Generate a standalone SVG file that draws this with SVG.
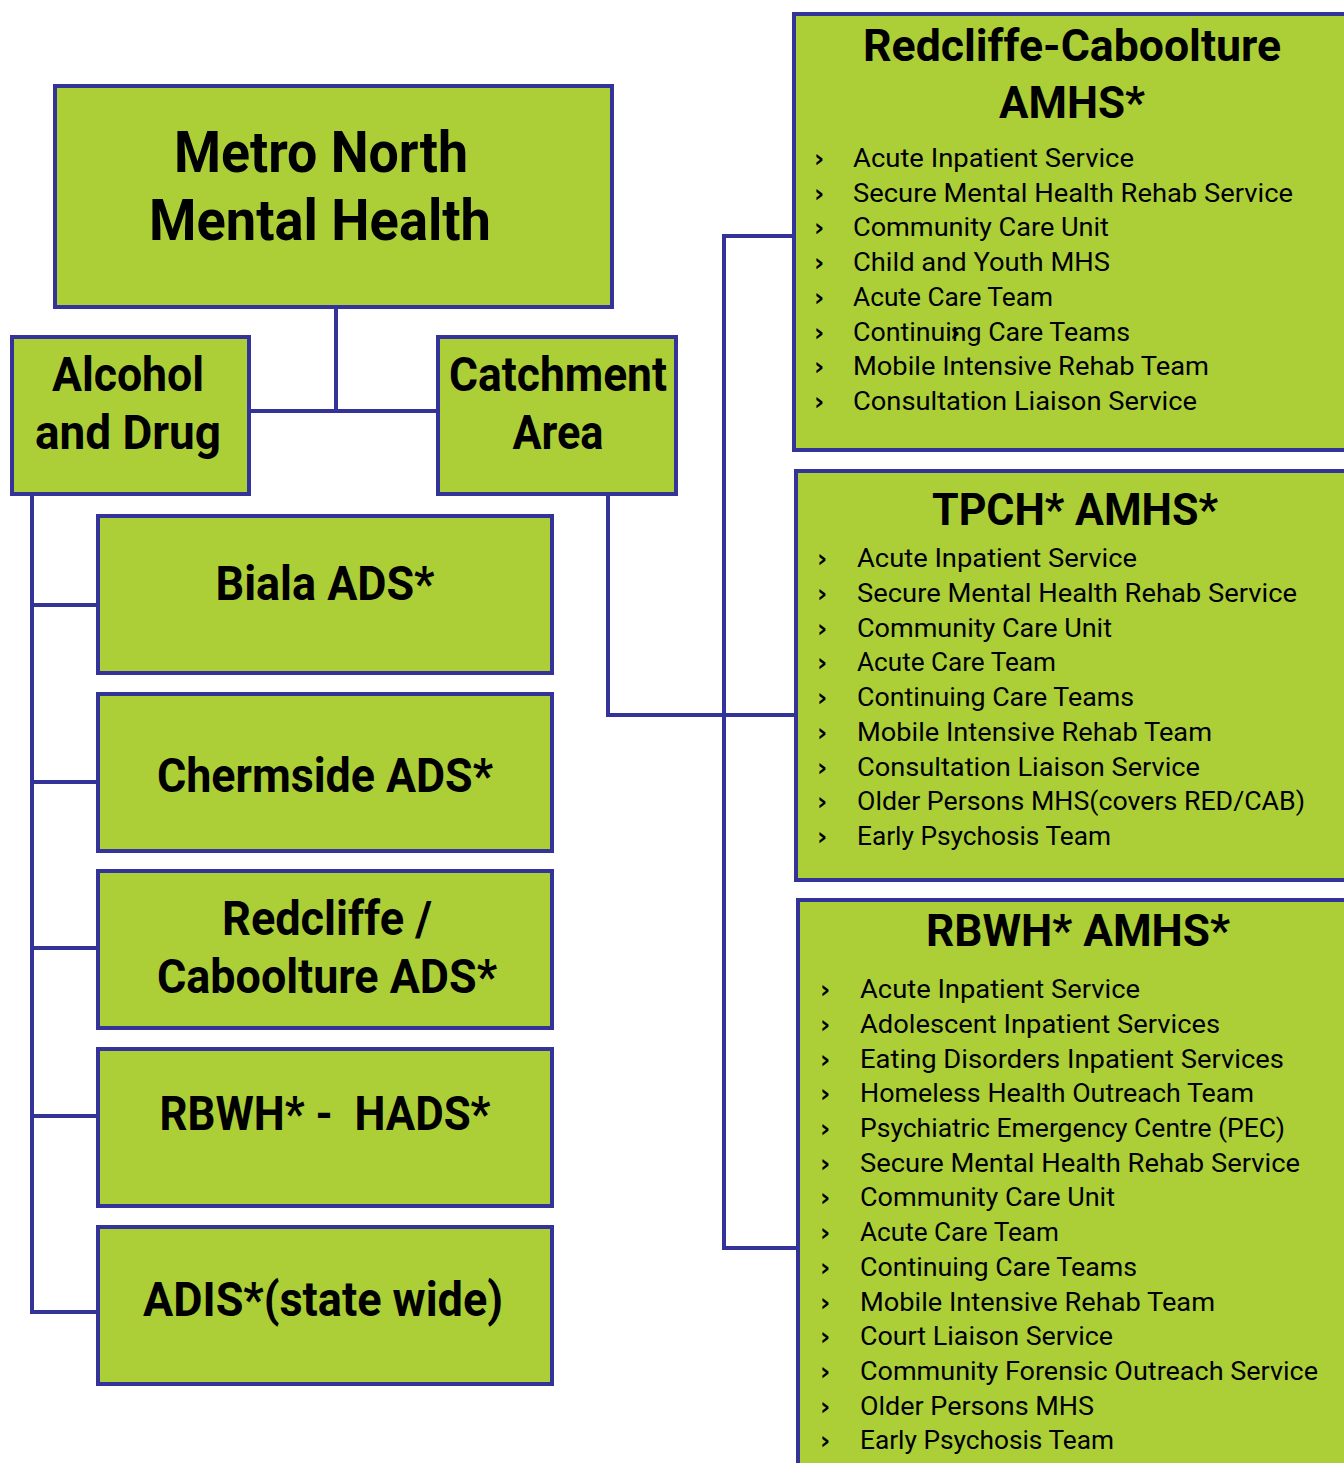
<svg xmlns="http://www.w3.org/2000/svg" width="1344" height="1463" viewBox="0 0 1344 1463">
<style>
.box{fill:#accf38;stroke:#333399;stroke-width:4}
.con{fill:none;stroke:#333399;stroke-width:4}
.t{font-family:Roboto,"Liberation Sans",sans-serif;font-weight:bold;fill:#000;text-anchor:middle}
.big{font-size:58px}
.mid{font-size:48px}
.ttl{font-size:45px}
.li{font-family:Roboto,"Liberation Sans",sans-serif;font-size:26px;fill:#000}
.b{font-family:"DejaVu Sans",sans-serif;font-size:25px;font-weight:bold;fill:#000}
</style>
<rect width="1344" height="1463" fill="#fff"/>
<g id="connectors">
<path class="con" d="M336,307 V411 M249,411 H438"/>
<path class="con" d="M32,494 V1312 H98 M32,605 H98 M32,782 H98 M32,948 H98 M32,1116 H98"/>
<path class="con" d="M608,494 V715 H795"/>
<path class="con" d="M793,236 H724 V1248 H797"/>
</g>
<g id="metro-north">
<rect class="box" x="55" y="86" width="557" height="221"/>
<text class="t big" x="321" y="172" textLength="294" lengthAdjust="spacingAndGlyphs">Metro North</text>
<text class="t big" x="320" y="240" textLength="342" lengthAdjust="spacingAndGlyphs">Mental Health</text>
</g>
<g id="alcohol-drug">
<rect class="box" x="12" y="337" width="237" height="157"/>
<text class="t mid" x="128" y="391" textLength="152" lengthAdjust="spacingAndGlyphs">Alcohol</text>
<text class="t mid" x="128" y="449" textLength="186" lengthAdjust="spacingAndGlyphs">and Drug</text>
</g>
<g id="catchment">
<rect class="box" x="438" y="337" width="238" height="157"/>
<text class="t mid" x="558" y="391" textLength="218" lengthAdjust="spacingAndGlyphs">Catchment</text>
<text class="t mid" x="558" y="449" textLength="91" lengthAdjust="spacingAndGlyphs">Area</text>
</g>
<g id="biala">
<rect class="box" x="98" y="516" width="454" height="157"/>
<text class="t mid" x="325" y="600" textLength="219" lengthAdjust="spacingAndGlyphs">Biala ADS*</text>
</g>
<g id="chermside">
<rect class="box" x="98" y="694" width="454" height="157"/>
<text class="t mid" x="325" y="792" textLength="336" lengthAdjust="spacingAndGlyphs">Chermside ADS*</text>
</g>
<g id="redcliffe-ads">
<rect class="box" x="98" y="871" width="454" height="157"/>
<text class="t mid" x="327" y="935" textLength="210" lengthAdjust="spacingAndGlyphs">Redcliffe /</text>
<text class="t mid" x="327" y="993" textLength="340" lengthAdjust="spacingAndGlyphs">Caboolture ADS*</text>
</g>
<g id="rbwh-hads">
<rect class="box" x="98" y="1049" width="454" height="157"/>
<text class="t mid" x="325" y="1130" textLength="331" lengthAdjust="spacingAndGlyphs" xml:space="preserve">RBWH* -  HADS*</text>
</g>
<g id="adis">
<rect class="box" x="98" y="1227" width="454" height="157"/>
<text class="t mid" x="323" y="1316" textLength="360" lengthAdjust="spacingAndGlyphs">ADIS*(state wide)</text>
</g>
<g id="redcliffe-amhs">
<rect class="box" x="794" y="14" width="600" height="436"/>
<text class="t ttl" x="1072" y="61" textLength="418" lengthAdjust="spacingAndGlyphs">Redcliffe-Caboolture</text>
<text class="t ttl" x="1072" y="118" textLength="146" lengthAdjust="spacingAndGlyphs">AMHS*</text>
<text class="b" x="814" y="167">›</text><text class="li" x="853" y="167" textLength="281" lengthAdjust="spacingAndGlyphs">Acute Inpatient Service</text>
<text class="b" x="814" y="202">›</text><text class="li" x="853" y="202" textLength="440" lengthAdjust="spacingAndGlyphs">Secure Mental Health Rehab Service</text>
<text class="b" x="814" y="236">›</text><text class="li" x="853" y="236" textLength="256" lengthAdjust="spacingAndGlyphs">Community Care Unit</text>
<text class="b" x="814" y="271">›</text><text class="li" x="853" y="271" textLength="257" lengthAdjust="spacingAndGlyphs">Child and Youth MHS</text>
<text class="b" x="814" y="306">›</text><text class="li" x="853" y="306" textLength="200" lengthAdjust="spacingAndGlyphs">Acute Care Team</text>
<text class="b" x="814" y="341">›</text><text class="li" x="853" y="341" textLength="277" lengthAdjust="spacingAndGlyphs">Continuing Care Teams</text>
<text class="b" x="950" y="341">›</text>
<text class="b" x="814" y="375">›</text><text class="li" x="853" y="375" textLength="356" lengthAdjust="spacingAndGlyphs">Mobile Intensive Rehab Team</text>
<text class="b" x="814" y="410">›</text><text class="li" x="853" y="410" textLength="344" lengthAdjust="spacingAndGlyphs">Consultation Liaison Service</text>
</g>
<g id="tpch-amhs">
<rect class="box" x="796" y="471" width="600" height="409"/>
<text class="t ttl" x="1075" y="525" textLength="286" lengthAdjust="spacingAndGlyphs">TPCH* AMHS*</text>
<text class="b" x="817" y="567">›</text><text class="li" x="857" y="567" textLength="280" lengthAdjust="spacingAndGlyphs">Acute Inpatient Service</text>
<text class="b" x="817" y="602">›</text><text class="li" x="857" y="602" textLength="440" lengthAdjust="spacingAndGlyphs">Secure Mental Health Rehab Service</text>
<text class="b" x="817" y="637">›</text><text class="li" x="857" y="637" textLength="255" lengthAdjust="spacingAndGlyphs">Community Care Unit</text>
<text class="b" x="817" y="671">›</text><text class="li" x="857" y="671" textLength="199" lengthAdjust="spacingAndGlyphs">Acute Care Team</text>
<text class="b" x="817" y="706">›</text><text class="li" x="857" y="706" textLength="277" lengthAdjust="spacingAndGlyphs">Continuing Care Teams</text>
<text class="b" x="817" y="741">›</text><text class="li" x="857" y="741" textLength="355" lengthAdjust="spacingAndGlyphs">Mobile Intensive Rehab Team</text>
<text class="b" x="817" y="776">›</text><text class="li" x="857" y="776" textLength="343" lengthAdjust="spacingAndGlyphs">Consultation Liaison Service</text>
<text class="b" x="817" y="810">›</text><text class="li" x="857" y="810" textLength="448" lengthAdjust="spacingAndGlyphs">Older Persons MHS(covers RED/CAB)</text>
<text class="b" x="817" y="845">›</text><text class="li" x="857" y="845" textLength="254" lengthAdjust="spacingAndGlyphs">Early Psychosis Team</text>
</g>
<g id="rbwh-amhs">
<rect class="box" x="798" y="900" width="600" height="600"/>
<text class="t ttl" x="1078" y="946" textLength="304" lengthAdjust="spacingAndGlyphs">RBWH* AMHS*</text>
<text class="b" x="820" y="998">›</text><text class="li" x="860" y="998" textLength="280" lengthAdjust="spacingAndGlyphs">Acute Inpatient Service</text>
<text class="b" x="820" y="1033">›</text><text class="li" x="860" y="1033" textLength="360" lengthAdjust="spacingAndGlyphs">Adolescent Inpatient Services</text>
<text class="b" x="820" y="1068">›</text><text class="li" x="860" y="1068" textLength="424" lengthAdjust="spacingAndGlyphs">Eating Disorders Inpatient Services</text>
<text class="b" x="820" y="1102">›</text><text class="li" x="860" y="1102" textLength="394" lengthAdjust="spacingAndGlyphs">Homeless Health Outreach Team</text>
<text class="b" x="820" y="1137">›</text><text class="li" x="860" y="1137" textLength="425" lengthAdjust="spacingAndGlyphs">Psychiatric Emergency Centre (PEC)</text>
<text class="b" x="820" y="1172">›</text><text class="li" x="860" y="1172" textLength="440" lengthAdjust="spacingAndGlyphs">Secure Mental Health Rehab Service</text>
<text class="b" x="820" y="1206">›</text><text class="li" x="860" y="1206" textLength="255" lengthAdjust="spacingAndGlyphs">Community Care Unit</text>
<text class="b" x="820" y="1241">›</text><text class="li" x="860" y="1241" textLength="199" lengthAdjust="spacingAndGlyphs">Acute Care Team</text>
<text class="b" x="820" y="1276">›</text><text class="li" x="860" y="1276" textLength="277" lengthAdjust="spacingAndGlyphs">Continuing Care Teams</text>
<text class="b" x="820" y="1311">›</text><text class="li" x="860" y="1311" textLength="355" lengthAdjust="spacingAndGlyphs">Mobile Intensive Rehab Team</text>
<text class="b" x="820" y="1345">›</text><text class="li" x="860" y="1345" textLength="253" lengthAdjust="spacingAndGlyphs">Court Liaison Service</text>
<text class="b" x="820" y="1380">›</text><text class="li" x="860" y="1380" textLength="458" lengthAdjust="spacingAndGlyphs">Community Forensic Outreach Service</text>
<text class="b" x="820" y="1415">›</text><text class="li" x="860" y="1415" textLength="234" lengthAdjust="spacingAndGlyphs">Older Persons MHS</text>
<text class="b" x="820" y="1449">›</text><text class="li" x="860" y="1449" textLength="254" lengthAdjust="spacingAndGlyphs">Early Psychosis Team</text>
</g>
</svg>
